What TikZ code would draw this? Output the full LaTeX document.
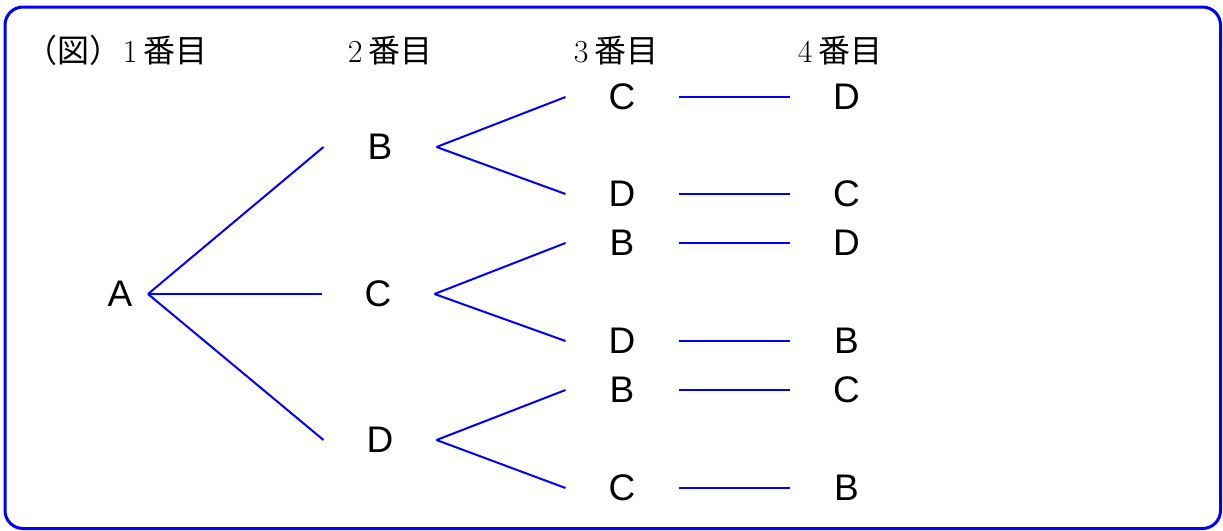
\documentclass[tikz,border=0pt]{standalone}
\usepackage{fontspec}
\setsansfont{Liberation Sans}
\newfontfamily\jpfont{Noto Sans CJK JP}

\begin{document}
\begin{tikzpicture}[x=1pt, y=-1pt,
    every node/.style={inner sep=0pt, outer sep=0pt},
    letter/.style={font=\sffamily\fontsize{37}{44}\selectfont, minimum width=113pt},
    head/.style={font=\fontsize{32}{38}\selectfont, anchor=base},
    branch/.style={blue, line width=2pt}]
      \useasboundingbox (0,0) rectangle (1223,530);

      % Frame
      \draw[blue, line width=3pt, rounded corners=18pt] (5,7) rectangle (1220.5,528.5);

      % Headings
      \node (title) [head, anchor=base west] at (25,62) {{\jpfont （図）}};
      \node (head1) [head] at (165,62) {1\,{\jpfont 番目}};
      \node (head2) [head] at (390,62) {2\,{\jpfont 番目}};
      \node (head3) [head] at (616,62) {3\,{\jpfont 番目}};
      \node (head4) [head] at (840,62) {4\,{\jpfont 番目}};

      % 1st place
      \node (a) [letter, minimum width=56pt] at (120,294) {A};

      % 2nd place
      \node (ab) [letter] at (380,147) {B};
      \node (ac) [letter] at (378,294) {C};
      \node (ad) [letter] at (380,440) {D};
      \draw[branch] (a.east) -- (ab.west);
      \draw[branch] (a.east) -- (ac.west);
      \draw[branch] (a.east) -- (ad.west);

      % 3rd place
      \node (abc) [letter] at (622,97) {C};
      \node (abd) [letter] at (622,194) {D};
      \node (acb) [letter] at (622,243) {B};
      \node (acd) [letter] at (622,341) {D};
      \node (adb) [letter] at (622,390) {B};
      \node (adc) [letter] at (622,488) {C};
      \draw[branch] (ab.east) -- (abc.west);
      \draw[branch] (ab.east) -- (abd.west);
      \draw[branch] (ac.east) -- (acb.west);
      \draw[branch] (ac.east) -- (acd.west);
      \draw[branch] (ad.east) -- (adb.west);
      \draw[branch] (ad.east) -- (adc.west);

      % 4th place
      \node (abcd) [letter] at (846.5,97) {D};
      \node (abdc) [letter] at (846.5,194) {C};
      \node (acbd) [letter] at (846.5,243) {D};
      \node (acdb) [letter] at (846.5,341) {B};
      \node (adbc) [letter] at (846.5,390) {C};
      \node (adcb) [letter] at (846.5,488) {B};
      \draw[branch] (abc.east) -- (abcd.west);
      \draw[branch] (abd.east) -- (abdc.west);
      \draw[branch] (acb.east) -- (acbd.west);
      \draw[branch] (acd.east) -- (acdb.west);
      \draw[branch] (adb.east) -- (adbc.west);
      \draw[branch] (adc.east) -- (adcb.west);

    \end{tikzpicture}
\end{document}
